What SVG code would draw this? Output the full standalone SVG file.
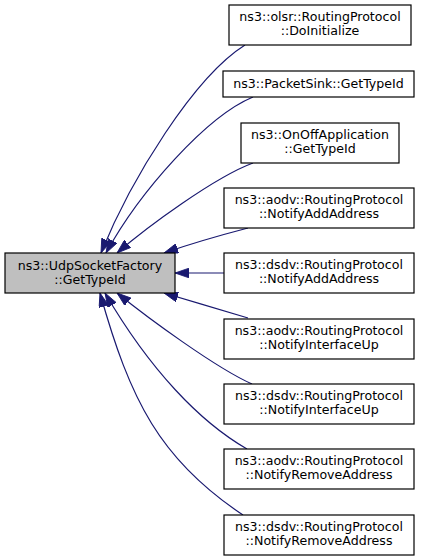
<svg xmlns="http://www.w3.org/2000/svg" width="421" height="560" viewBox="0 0 421 560">
<defs>
<style>
.n rect{fill:#ffffff;stroke:#000000;stroke-width:1.2}
.n.cur rect{fill:#bfbfbf}
.n text{font-family:"DejaVu Sans","Liberation Sans",sans-serif;font-size:12.6px;fill:#000000;text-anchor:middle}
.e path{fill:none;stroke:#191970;stroke-width:1.2;marker-end:url(#ah)}
</style>
<marker id="ah" markerUnits="userSpaceOnUse" markerWidth="14" markerHeight="10" viewBox="0 0 13 9" refX="13" refY="4.5" orient="auto">
<path d="M0,0 L13,4.5 L0,9 z" fill="#191970" stroke="#191970" stroke-width="0.8"/>
</marker>
</defs>
<rect width="421" height="560" fill="#ffffff"/>
<g id="connectors" class="e">
<path d="M245,45 C194,77 131,179 101,253"/>
<path d="M253,97 C207,116 140,191 106,253"/>
<path d="M253,163 C215,177 147,227 117,253"/>
<path d="M248,228 C225,234 190,244 164,253"/>
<path d="M224,273 L175,273"/>
<path d="M248,318 C225,311 190,301 164,293"/>
<path d="M252,384 C216,368 148,318 117,293"/>
<path d="M247,449 C200,422 150,370 105,293"/>
<path d="M243,515 C160,460 130,400 100,293"/>
</g>
<g id="node0" class="n cur"><rect x="5" y="253" width="170" height="40"/><text x="90" y="269.5">ns3::UdpSocketFactory</text><text x="90" y="283.5">::GetTypeId</text></g>
<g id="node1" class="n"><rect x="229" y="5" width="182" height="40"/><text x="320" y="21">ns3::olsr::RoutingProtocol</text><text x="320" y="35">::DoInitialize</text></g>
<g id="node2" class="n"><rect x="223" y="71" width="191" height="26"/><text x="318.5" y="87.5">ns3::PacketSink::GetTypeId</text></g>
<g id="node3" class="n"><rect x="241" y="123" width="158" height="40"/><text x="320" y="139">ns3::OnOffApplication</text><text x="320" y="153">::GetTypeId</text></g>
<g id="node4" class="n"><rect x="224" y="188" width="190" height="40"/><text x="319" y="204">ns3::aodv::RoutingProtocol</text><text x="319" y="218">::NotifyAddAddress</text></g>
<g id="node5" class="n"><rect x="224" y="253" width="190" height="40"/><text x="319" y="269">ns3::dsdv::RoutingProtocol</text><text x="319" y="283">::NotifyAddAddress</text></g>
<g id="node6" class="n"><rect x="224" y="319" width="190" height="40"/><text x="319" y="335">ns3::aodv::RoutingProtocol</text><text x="319" y="349">::NotifyInterfaceUp</text></g>
<g id="node7" class="n"><rect x="224" y="384" width="190" height="40"/><text x="319" y="400">ns3::dsdv::RoutingProtocol</text><text x="319" y="414">::NotifyInterfaceUp</text></g>
<g id="node8" class="n"><rect x="224" y="449" width="190" height="40"/><text x="319" y="465">ns3::aodv::RoutingProtocol</text><text x="319" y="479">::NotifyRemoveAddress</text></g>
<g id="node9" class="n"><rect x="224" y="515" width="190" height="40"/><text x="319" y="531">ns3::dsdv::RoutingProtocol</text><text x="319" y="545">::NotifyRemoveAddress</text></g>
</svg>
